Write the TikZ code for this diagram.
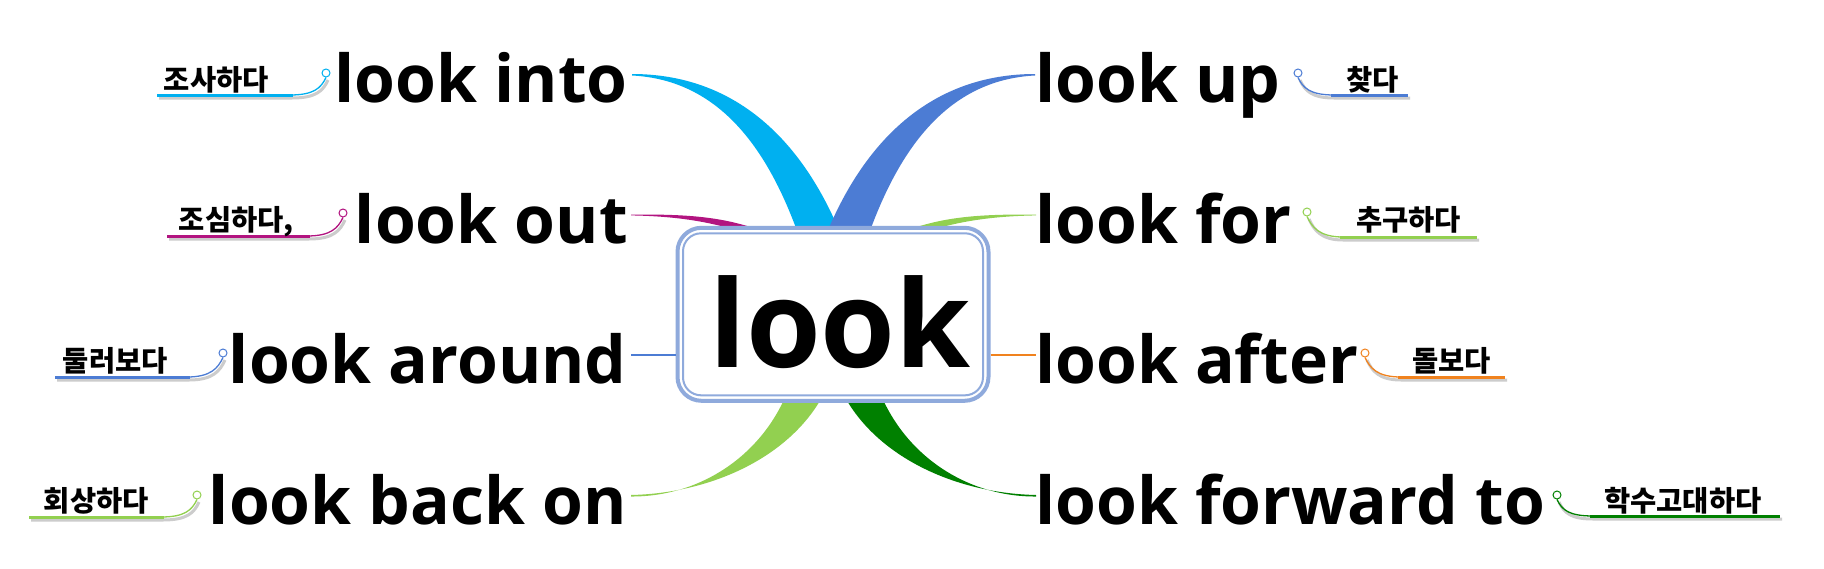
\documentclass[tikz,border=0pt]{standalone}
\usepackage{fontspec}
\setmainfont{Noto Sans CJK KR}
\newfontfamily\latinfont{Open Sans}
\definecolor{cyanC}{RGB}{0,176,240}
\definecolor{blueC}{RGB}{76,124,212}
\definecolor{magC}{RGB}{178,20,128}
\definecolor{lgreenC}{RGB}{146,208,80}
\definecolor{dgreenC}{RGB}{0,128,0}
\definecolor{orangeC}{RGB}{240,130,30}
\definecolor{boxC}{RGB}{143,170,220}
\tikzset{
  phrase/.style={font=\latinfont\bfseries\fontsize{66}{78}\selectfont, inner sep=0pt, text=black},
  ko/.style={font=\bfseries\fontsize{28.5}{32}\selectfont, inner sep=0pt, text=black},
  knob/.style={circle, draw=#1, fill=white, line width=1pt, minimum size=8pt, inner sep=0pt},
  shadowline/.style={black!20, line width=3pt},
}
\newcommand\rdeco[6]{% name, cx, cy, uy, xend, color
  \node[knob=#6] (#1) at (#2,#3) {};
  \coordinate (#1e) at (#5,#4);
  \draw[shadowline] (#2+2,#3+7) .. controls (#2+7,#3+18) and (#2+14,#4+3) .. (#2+36,#4+3) -- (#5+2,#4+3);
  \draw[#6, line width=1.3pt] (#1.south) .. controls (#2+5,#3+15) and (#2+12,#4) .. (#2+36,#4);
  \draw[#6, line width=3pt] (#2+33,#4) -- (#1e);
}
\newcommand\ldeco[6]{% name, cx, cy, uy, xstart, color
  \node[knob=#6] (#1) at (#2,#3) {};
  \coordinate (#1e) at (#5,#4);
  \draw[shadowline] (#2+2,#3+7) .. controls (#2-3,#3+18) and (#2-10,#4+3) .. (#2-34,#4+3) -- (#5+2,#4+3);
  \draw[#6, line width=1.3pt] (#1.south) .. controls (#2-5,#3+15) and (#2-12,#4) .. (#2-36,#4);
  \draw[#6, line width=3pt] (#2-33,#4) -- (#1e);
}
\begin{document}
\begin{tikzpicture}[x=1pt,y=-1pt]
\useasboundingbox[fill=white] (0,0) rectangle (1824,568);

% ribbon tips
\coordinate (tInto) at (632,74);
\coordinate (tUp) at (1035,74);
\coordinate (tOut) at (631,214.6);
\coordinate (tFor) at (1036,214.6);
\coordinate (tAround) at (631,355);
\coordinate (tAfter) at (1036,355);
\coordinate (tBack) at (631,495);
\coordinate (tFwd) at (1036,495);

% ribbons
\fill[cyanC] (tInto) .. controls (735,74) and (805,140) .. (845,245) -- (802,245) .. controls (770,150) and (720,80) .. (632,75.5) -- cycle;
\fill[blueC] (tUp) .. controls (932,74) and (862,140) .. (822,245) -- (865,245) .. controls (897,150) and (947,80) .. (1035,75.5) -- cycle;
\fill[magC] (tOut) .. controls (690,214) and (725,217) .. (765,232) -- (765,240) .. controls (725,225) and (690,216.5) .. (631,215.4) -- cycle;
\fill[lgreenC] (tFor) .. controls (977,214) and (942,217) .. (902,232) -- (902,240) .. controls (942,225) and (977,216.5) .. (1036,215.4) -- cycle;
\fill[lgreenC] (tBack) .. controls (720,493) and (800,450) .. (828,385) -- (790,385) .. controls (765,455) and (700,497) .. (631,496.5) -- cycle;
\fill[dgreenC] (tFwd) .. controls (947,493) and (867,450) .. (839,385) -- (877,385) .. controls (902,455) and (967,497) .. (1036,496.5) -- cycle;

% central box
\node[draw=boxC, fill=white, line width=4pt, rounded corners=24pt, minimum width=311pt, minimum height=173pt] (box) at (833,314.3) {};
\node[draw=boxC, line width=2pt, rounded corners=18pt, minimum width=300pt, minimum height=162pt] (boxin) at (box.center) {};
\node[anchor=base, inner sep=0pt, font=\latinfont\bfseries\fontsize{121}{140}\selectfont] (look) at (840,367) {look};

\draw[blueC, line width=2pt] (tAround) -- (box.west |- tAround);
\draw[orangeC, line width=2pt] (box.east |- tAfter) -- (tAfter);

% phrases
\node[phrase, anchor=base east] (pInto) at (628,102) {look into};
\node[phrase, anchor=base east] (pOut) at (628,243) {look out};
\node[phrase, anchor=base east] (pAround) at (627,383) {look around};
\node[phrase, anchor=base east] (pBack) at (627,524) {look back on};
\node[phrase, anchor=base west] (pUp) at (1035,102) {look up};
\node[phrase, anchor=base west] (pFor) at (1035,243) {look for};
\node[phrase, anchor=base west] (pAfter) at (1035,383) {look after};
\node[phrase, anchor=base west] (pFwd) at (1035,524) {look forward to};

% decorations
\ldeco{c1}{326}{73}{95}{157}{cyanC}
\ldeco{c2}{343}{213}{236}{167}{magC}
\ldeco{c3}{223}{353}{377}{55}{blueC}
\ldeco{c4}{197}{495}{517}{29}{lgreenC}
\rdeco{c5}{1298}{73}{95}{1408}{blueC}
\rdeco{c6}{1307}{212}{237}{1477}{lgreenC}
\rdeco{c7}{1365}{353}{377}{1505}{orangeC}
\rdeco{c8}{1557}{495}{516}{1780}{dgreenC}

% Korean labels
\node[ko, anchor=base east] (k1) at (269,90) {조사하다};
\node[ko, anchor=base east] (k2) at (294,230) {조심하다,};
\node[ko, anchor=base east] (k3) at (168,371) {둘러보다};
\node[ko, anchor=base east] (k4) at (149,511) {회상하다};
\node[ko, anchor=base west] (k5) at (1346,90) {찾다};
\node[ko, anchor=base west] (k6) at (1356,230) {추구하다};
\node[ko, anchor=base west] (k7) at (1412,371) {돌보다};
\node[ko, anchor=base west] (k8) at (1604,511) {학수고대하다};
\end{tikzpicture}
\end{document}
